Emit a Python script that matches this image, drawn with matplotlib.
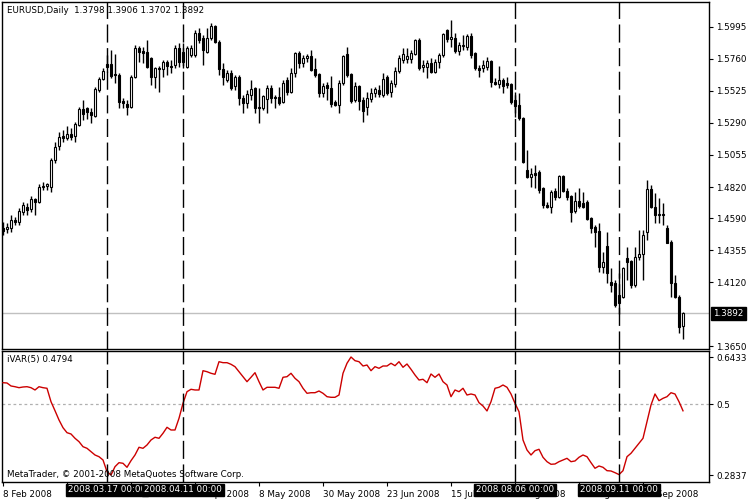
import matplotlib
matplotlib.use("Agg")
import matplotlib.pyplot as plt
import matplotlib.transforms as mtrans
import numpy as np

plt.rcParams['font.family'] = ['DejaVu Sans']

# ---------------- data ----------------
opens = [1.4519,1.4512,1.4519,1.4578,1.4564,1.4637,1.4674,1.4659,1.4732,1.4710,
         1.4820,1.4828,1.4820,1.5019,1.5122,1.5195,1.5180,1.5209,1.5195,1.5276,
         1.5393,1.5400,1.5371,1.5342,1.5532,1.5613,1.5723,1.5723,1.5650,1.5643,
         1.5452,1.5430,1.5408,1.5628,1.5841,1.5819,1.5811,1.5767,1.5628,1.5694,
         1.5687,1.5738,1.5709,1.5716,1.5841,1.5811,1.5701,1.5789,1.5789,1.5951,
         1.5914,1.5811,1.5914,1.6002,1.5885,1.5687,1.5606,1.5657,1.5562,1.5628,
         1.5474,1.5437,1.5496,1.5547,1.5400,1.5400,1.5467,1.5547,1.5481,1.5481,
         1.5444,1.5606,1.5518,1.5657,1.5804,1.5731,1.5767,1.5782,1.5687,1.5650,
         1.5510,1.5569,1.5547,1.5444,1.5422,1.5584,1.5797,1.5650,1.5459,1.5562,
         1.5459,1.5408,1.5467,1.5510,1.5532,1.5496,1.5628,1.5518,1.5577,1.5672,
         1.5753,1.5760,1.5760,1.5797,1.5899,1.5701,1.5701,1.5731,1.5665,1.5738,
         1.5789,1.5973,1.5907,1.5914,1.5819,1.5855,1.5848,1.5929,1.5804,1.5694,
         1.5694,1.5701,1.5745,1.5591,1.5577,1.5606,1.5584,1.5577,1.5459,1.5422,
         1.5327,1.4945,1.4894,1.4923,1.4931,1.4813,1.4688,1.4674,1.4791,1.4747,
         1.4901,1.4791,1.4754,1.4644,1.4718,1.4703,1.4710,1.4593,1.4527,1.4497,
         1.4233,1.4387,1.4123,1.4116,1.4028,1.4013,1.4299,1.4277,1.4101,1.4307,
         1.4329,1.4490,1.4806,1.4674,1.4615,1.4622,1.4520,1.4417,1.4116,1.4013,
         1.3798]
highs = [1.4564,1.4556,1.4615,1.4600,1.4666,1.4710,1.4703,1.4754,1.4740,1.4842,
         1.4857,1.4850,1.5033,1.5151,1.5224,1.5239,1.5268,1.5253,1.5298,1.5408,
         1.5459,1.5408,1.5400,1.5554,1.5628,1.5694,1.5789,1.5826,1.5797,1.5657,
         1.5474,1.5459,1.5643,1.5863,1.5855,1.5848,1.5899,1.5775,1.5701,1.5709,
         1.5753,1.5753,1.5753,1.5863,1.5877,1.5877,1.5855,1.5863,1.5973,1.5988,
         1.5936,1.5988,1.6024,1.6010,1.5899,1.5731,1.5679,1.5679,1.5643,1.5643,
         1.5496,1.5532,1.5606,1.5554,1.5547,1.5496,1.5569,1.5569,1.5496,1.5554,
         1.5606,1.5628,1.5694,1.5811,1.5819,1.5789,1.5797,1.5826,1.5767,1.5657,
         1.5584,1.5591,1.5635,1.5459,1.5606,1.5789,1.5848,1.5657,1.5591,1.5569,
         1.5481,1.5518,1.5547,1.5554,1.5569,1.5657,1.5643,1.5606,1.5701,1.5789,
         1.5841,1.5841,1.5826,1.5907,1.5914,1.5753,1.5753,1.5767,1.5760,1.5804,
         1.5951,1.5980,1.6046,1.5951,1.5885,1.5936,1.5944,1.5951,1.5811,1.5716,
         1.5753,1.5775,1.5753,1.5621,1.5709,1.5621,1.5628,1.5584,1.5518,1.5510,
         1.5334,1.5092,1.4960,1.4982,1.4945,1.4820,1.4710,1.4798,1.4813,1.4909,
         1.4909,1.4813,1.4762,1.4784,1.4813,1.4784,1.4725,1.4600,1.4542,1.4556,
         1.4343,1.4490,1.4226,1.4138,1.4189,1.4233,1.4380,1.4285,1.4380,1.4505,
         1.4505,1.4872,1.4835,1.4776,1.4740,1.4703,1.4542,1.4431,1.4175,1.4028,
         1.3906]
lows = [1.4468,1.4483,1.4490,1.4542,1.4542,1.4615,1.4615,1.4637,1.4615,1.4703,
        1.4798,1.4798,1.4784,1.4997,1.5092,1.5151,1.5165,1.5165,1.5151,1.5268,
        1.5312,1.5320,1.5290,1.5334,1.5518,1.5606,1.5665,1.5621,1.5584,1.5400,
        1.5400,1.5349,1.5400,1.5621,1.5738,1.5731,1.5694,1.5569,1.5547,1.5518,
        1.5628,1.5643,1.5657,1.5694,1.5701,1.5694,1.5694,1.5775,1.5775,1.5877,
        1.5716,1.5804,1.5899,1.5877,1.5643,1.5569,1.5591,1.5532,1.5532,1.5422,
        1.5364,1.5400,1.5459,1.5364,1.5290,1.5386,1.5364,1.5437,1.5400,1.5422,
        1.5437,1.5496,1.5510,1.5628,1.5694,1.5701,1.5738,1.5672,1.5628,1.5481,
        1.5481,1.5459,1.5408,1.5415,1.5364,1.5569,1.5628,1.5437,1.5444,1.5386,
        1.5298,1.5349,1.5444,1.5481,1.5481,1.5481,1.5496,1.5481,1.5554,1.5657,
        1.5731,1.5731,1.5731,1.5789,1.5679,1.5665,1.5621,1.5657,1.5657,1.5694,
        1.5775,1.5885,1.5848,1.5804,1.5789,1.5826,1.5826,1.5767,1.5679,1.5628,
        1.5665,1.5679,1.5554,1.5569,1.5547,1.5510,1.5547,1.5430,1.5334,1.5312,
        1.4997,1.4887,1.4821,1.4813,1.4776,1.4666,1.4666,1.4630,1.4725,1.4740,
        1.4784,1.4725,1.4564,1.4630,1.4666,1.4666,1.4578,1.4483,1.4380,1.4197,
        1.4189,1.4116,1.4050,1.3940,1.3888,1.4006,1.4138,1.4079,1.4086,1.4285,
        1.4138,1.4431,1.4666,1.4556,1.4556,1.4542,1.4409,1.4013,1.4006,1.3749,
        1.3702]
closes = [1.4497,1.4527,1.4578,1.4560,1.4644,1.4688,1.4652,1.4732,1.4710,1.4820,
          1.4828,1.4842,1.5019,1.5114,1.5187,1.5180,1.5209,1.5187,1.5283,1.5393,
          1.5356,1.5371,1.5349,1.5540,1.5613,1.5672,1.5701,1.5635,1.5643,1.5444,
          1.5437,1.5408,1.5628,1.5841,1.5811,1.5804,1.5701,1.5628,1.5694,1.5687,
          1.5738,1.5709,1.5701,1.5841,1.5738,1.5738,1.5841,1.5841,1.5951,1.5899,
          1.5826,1.5914,1.6002,1.5885,1.5687,1.5628,1.5657,1.5547,1.5628,1.5474,
          1.5437,1.5503,1.5540,1.5400,1.5408,1.5488,1.5547,1.5474,1.5474,1.5437,
          1.5584,1.5518,1.5657,1.5804,1.5731,1.5767,1.5782,1.5679,1.5643,1.5510,
          1.5562,1.5547,1.5430,1.5422,1.5584,1.5782,1.5643,1.5452,1.5562,1.5452,
          1.5378,1.5474,1.5510,1.5540,1.5503,1.5613,1.5510,1.5584,1.5672,1.5767,
          1.5797,1.5782,1.5804,1.5899,1.5694,1.5716,1.5731,1.5665,1.5738,1.5789,
          1.5944,1.5907,1.5921,1.5819,1.5863,1.5863,1.5929,1.5789,1.5694,1.5679,
          1.5716,1.5745,1.5591,1.5577,1.5606,1.5562,1.5569,1.5444,1.5415,1.5327,
          1.5004,1.4894,1.4916,1.4909,1.4798,1.4688,1.4674,1.4784,1.4747,1.4901,
          1.4791,1.4747,1.4637,1.4718,1.4681,1.4674,1.4586,1.4520,1.4490,1.4233,
          1.4270,1.4189,1.4101,1.3955,1.3969,1.4226,1.4270,1.4101,1.4307,1.4329,
          1.4468,1.4806,1.4674,1.4615,1.4622,1.4615,1.4409,1.4116,1.4013,1.3793,
          1.3892]

ivar = [0.5650,0.5641,0.5550,0.5528,0.5498,0.5519,0.5528,0.5498,0.5428,0.5528,0.5498,0.5480,
        0.5071,0.4797,0.4514,0.4279,0.4127,0.4087,0.3956,0.3853,0.3700,0.3651,0.3548,0.3447,0.3395,0.3295,
        0.2938,0.2837,
        0.3091,0.3213,0.3194,0.3072,0.3274,0.3447,0.3682,0.3651,0.3752,0.3904,0.3987,0.3956,0.4109,0.4291,
        0.4209,0.4209,0.4565,0.5022,0.5376,0.5449,0.5428,0.5428,
        0.6016,0.5985,0.5937,0.5906,0.6290,0.6260,0.6260,0.6211,0.6138,0.5985,0.5833,0.5681,
        0.5815,0.5955,0.5681,0.5428,0.5510,0.5510,0.5510,0.5480,
        0.5815,0.5833,0.5937,0.5784,0.5681,0.5480,0.5327,0.5345,0.5345,0.5397,0.5327,0.5224,0.5205,0.5205,0.5275,
        0.5937,0.6242,0.6433,0.6321,0.6290,0.6159,0.6189,0.6016,
        0.6138,0.6089,0.6159,0.6159,0.6242,0.6168,0.6290,0.6120,0.6220,0.6059,
        0.5885,0.5732,0.5754,0.5650,0.5915,0.5815,0.5915,0.5681,0.5580,
        0.5224,0.5428,0.5376,0.5480,0.5275,0.5306,0.5275,0.5041,0.4940,0.4789,
        0.5071,0.5480,0.5510,0.5580,0.5510,0.5306,0.5022,0.4767,
        0.3904,0.3599,0.3447,0.3578,0.3621,0.3377,0.3243,0.3164,0.3173,0.3243,0.3295,0.3346,
        0.3243,0.3265,0.3377,0.3447,0.3395,0.3213,0.3042,0.3112,0.3072,0.2969,0.2960,0.2908,0.2850,0.2969,
        0.3395,0.3499,0.3651,0.3803,0.3956,0.4462,0.4971,0.5306,0.5102,0.5174,0.5224,0.5345,0.5306,0.5071,0.4794]

date_tick_bars = [0, 16, 32, 48, 64, 80, 96, 112, 128, 144, 160]
date_tick_labels = ["8 Feb 2008", "3 Mar 2008", "25 Mar 2008", "16 Apr 2008", "8 May 2008",
                    "30 May 2008", "23 Jun 2008", "15 Jul 2008", "6 Aug 2008", "28 Aug 2008",
                    "19 Sep 2008"]
marker_bars = [26, 45, 128, 154]
marker_labels = ["2008.03.17 00:00", "2008.04.11 00:00", "2008.08.06 00:00", "2008.09.11 00:00"]
price_ticks = [1.5995, 1.5760, 1.5525, 1.5290, 1.5055, 1.4820, 1.4590, 1.4355, 1.4120, 1.3650]
ivar_ticks = [0.6433, 0.5, 0.2837]
ivar_tick_labels = ["0.6433", "0.5", "0.2837"]
last_price = 1.3892
ivar_level = 0.5
header = "EURUSD,Daily  1.3798 1.3906 1.3702 1.3892"
ivar_title = "iVAR(5) 0.4794"
copyright_text = "MetaTrader, \u00a9 2001-2008 MetaQuotes Software Corp."

# ---------------- figure ----------------
W, H = 750, 500
fig = plt.figure(figsize=(W / 100, H / 100), dpi=100)
fs = 6.3

def frac_axes(x0, y0, x1, y1):
    return fig.add_axes([x0 / W, 1 - y1 / H, (x1 - x0) / W, (y1 - y0) / H])

ax = frac_axes(2, 2, 709, 349)
ax2 = frac_axes(2, 351, 709, 482)

n = len(closes)
idx = np.arange(n)
o = np.array(opens); c = np.array(closes); h = np.array(highs); l = np.array(lows)

ax.vlines(idx, l, h, color='black', lw=1.0, zorder=3)
up = c >= o
bottoms = np.minimum(o, c)
heights = np.maximum(np.abs(c - o), 0.00025)
ax.bar(idx[up], heights[up], bottom=bottoms[up], width=0.62, facecolor='white',
       edgecolor='black', linewidth=0.8, zorder=4)
ax.bar(idx[~up], heights[~up], bottom=bottoms[~up], width=0.62, facecolor='black',
       edgecolor='black', linewidth=0.8, zorder=4)

ax.axhline(last_price, color='#c0c0c0', lw=1.0, zorder=1)

xlim = (-0.25, 176.5)
for a in (ax, ax2):
    a.set_xlim(*xlim)
    for m in marker_bars:
        a.axvline(m, color='black', lw=1.0, dashes=(13, 4), zorder=5)
    for s in a.spines.values():
        s.set_linewidth(1.0)
        s.set_color('black')

ax.set_ylim(1.3631, 1.6178)
ax.set_xticks([])
ax.yaxis.tick_right()
ax.set_yticks(price_ticks)
ax.set_yticklabels(["%.4f" % v for v in price_ticks])
ax.tick_params(axis='y', direction='out', length=3, width=0.8, labelsize=fs, pad=2)

ax.text(m := 0, 0, "")
ax.text(5 / 707, 1 - 4 / 347, header, transform=ax.transAxes, ha='left', va='top',
        fontsize=fs, color='black')
ax.text(1.0 + 4 / 707, last_price, "%.4f" % last_price,
        transform=mtrans.blended_transform_factory(ax.transAxes, ax.transData),
        ha='left', va='center', fontsize=fs, color='white', clip_on=False, zorder=10,
        bbox=dict(facecolor='black', edgecolor='black', pad=1.6))

# lower panel
ax2.plot(idx, ivar, color='#cc0000', lw=1.0, zorder=3)
ax2.axhline(ivar_level, color='#b0b0b0', lw=0.9, dashes=(2.2, 2.2), zorder=2)
ax2.set_ylim(0.2624, 0.6616)
ax2.yaxis.tick_right()
ax2.set_yticks(ivar_ticks)
ax2.set_yticklabels(ivar_tick_labels)
ax2.tick_params(axis='y', direction='out', length=3, width=0.8, labelsize=fs, pad=2)
ax2.set_xticks(date_tick_bars)
ax2.set_xticklabels(date_tick_labels)
ax2.tick_params(axis='x', direction='out', length=3, width=0.8, labelsize=fs, pad=2.5)
for lbl in ax2.get_xticklabels():
    lbl.set_ha('left')

ax2.text(5 / 707, 1 - 4 / 131, ivar_title, transform=ax2.transAxes, ha='left', va='top',
         fontsize=fs, color='black')
ax2.text(5 / 707, 3 / 131, copyright_text, transform=ax2.transAxes, ha='left', va='bottom',
         fontsize=fs, color='black')

btrans = mtrans.blended_transform_factory(ax2.transData, ax2.transAxes)
for m, lab in zip(marker_bars, marker_labels):
    ax2.text(m, -3.5 / 131, lab, transform=btrans, ha='center', va='top', fontsize=fs,
             color='white', clip_on=False, zorder=10,
             bbox=dict(facecolor='black', edgecolor='black', pad=1.4))

fig.savefig("out.png", dpi=100, facecolor='white')
